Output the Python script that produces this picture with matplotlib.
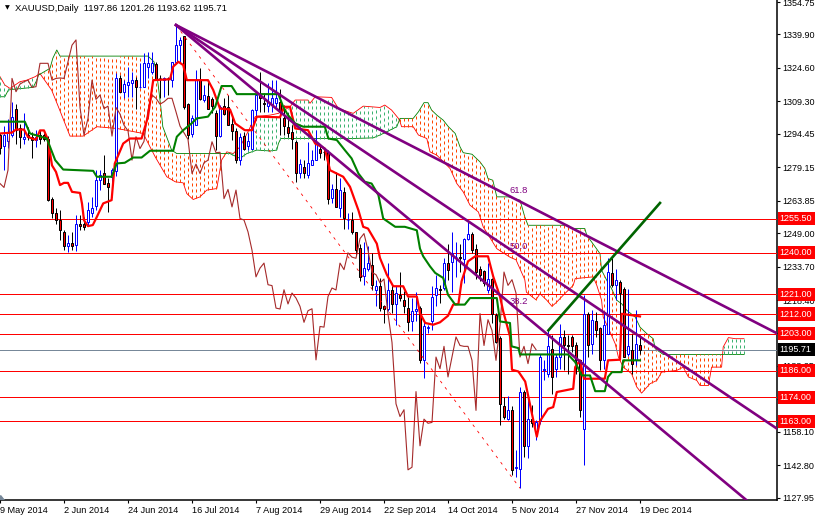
import numpy as np
import matplotlib
matplotlib.use("Agg")
import matplotlib.pyplot as plt
from matplotlib.patches import Rectangle

plt.rcParams["font.family"] = ["Liberation Sans", "DejaVu Sans"]
plt.rcParams["lines.scale_dashes"] = False

# daily candles, one per bar
opens = [1294,1289,1291,1294,1306,1297,1292,1294,1293,1291.6,
         1294,1294,1292.3,1264.4,1258,1254.9,1249.3,1243,1244.7,1243.5,
         1253.4,1253,1254.2,1258,1261.3,1273.2,1276.6,1272,1274.8,1277.5,
         1319.8,1313.7,1316.6,1317.8,1319,1316,1316,1325,1322.9,1326.4,
         1320,1319,1320,1319,1327.4,1335,1339.2,1307.9,1294.3,1298.4,
         1319,1309.9,1311.7,1310.6,1303.8,1293.4,1307.1,1306.5,1298.9,1295.7,
         1282.4,1293.4,1289,1287.7,1305.3,1312,1308.4,1307.1,1307.6,1308.4,
         1309.1,1301.5,1297.7,1295.4,1290.8,1276.6,1279.4,1275.5,1280.1,1282.4,
         1287.7,1286.2,1286.2,1265.3,1269,1260.7,1267.6,1255,1254.9,1249.3,
         1242,1229.2,1232.6,1234.6,1223.1,1225,1215.8,1214.3,1223.1,1216.7,
         1220.8,1218.5,1214.7,1209,1213.5,1214.7,1191,1205.5,1209,1220.8,
         1223.3,1223.9,1235.3,1236,1238,1238,1237.3,1246.5,1248.8,1241.9,
         1232.6,1231.5,1223.1,1228,1211.7,1201,1169.7,1164,1168.2,1141.4,
         1141.1,1176.5,1151.7,1163.9,1158.2,1163,1186.2,1184.7,1196.1,1187,
         1192.3,1201.5,1198,1201.5,1197.6,1190.8,1159.6,1212.2,1198.4,1208.6,
         1205.7,1190.8,1203,1230.8,1225.4,1226.7,1223.6,1193.5,1195.4,1190.8,
         1197.86]
highs = [1295,1298,1301,1309,1308,1299,1304,1297.7,1295.4,1296.1,
         1296,1295,1293.4,1265.6,1260.3,1259.8,1250.3,1248,1249.6,1257.2,
         1257.2,1256.4,1263.3,1265.6,1277.8,1277.8,1284.7,1274,1278.6,1322.1,
         1321.3,1319,1325.2,1322.9,1320.6,1326.7,1331.3,1332,1332,1327.4,
         1321.3,1320.6,1320.6,1327.4,1344.2,1338.9,1339.2,1308.4,1303,1323.6,
         1324.4,1316.8,1318.3,1311.4,1305.3,1307.6,1310.7,1312.2,1303,1296.9,
         1294.6,1295.4,1295,1306,1312.9,1322.9,1312.9,1317.5,1319,1319,
         1314.8,1307.6,1303.8,1298.4,1291.6,1282.7,1282.4,1290.8,1287,1296.1,
         1290,1287.7,1287,1271.7,1277,1274,1270,1258,1258.7,1249.6,
         1244,1245,1243,1240,1227.7,1228.5,1216.3,1235.3,1225.4,1224.7,
         1231,1222.4,1220,1219.3,1221.9,1215.5,1208.6,1207,1224.7,1230,
         1225.4,1237.6,1244,1249.6,1245,1244,1247,1254.1,1249.6,1244.2,
         1233.8,1232,1235.3,1228.5,1212.4,1201.8,1174,1174.6,1169.7,1149.8,
         1178.8,1177.3,1174.3,1170.4,1163.6,1193.8,1190.8,1204.5,1202.2,1193.8,
         1207.6,1204.5,1202.2,1202.2,1199.2,1190.8,1220.6,1212.9,1213.7,1212.9,
         1206,1212.9,1237.4,1237.4,1232.8,1227.4,1224.4,1223.6,1203,1213.7,
         1201.26]
lows = [1285,1278,1288,1293,1290,1288,1290,1291.6,1283.2,1288.5,
        1290,1291,1263.6,1255.7,1253.4,1245.7,1241.5,1240.4,1241.2,1240.9,
        1250.3,1250.3,1252.2,1256.4,1259.5,1268.7,1271.7,1258.7,1265.6,1275,
        1313.7,1310.7,1311.4,1311.4,1306,1315.2,1315.7,1319.8,1322,1319,
        1310.7,1311.4,1312.2,1316,1327.4,1327.4,1306,1292.3,1293,1298.4,
        1309.9,1309,1306,1303.8,1287,1293,1303,1298.4,1291.6,1280.9,
        1280.1,1287,1287,1287.7,1300.7,1304.5,1304.5,1304.5,1304.5,1306.8,
        1293.9,1293.9,1293.1,1287.7,1272.5,1274,1274,1274,1280,1282.4,
        1283.2,1282.4,1262.2,1262.6,1261,1256.4,1251,1251,1248.8,1239,
        1227,1225.4,1231.5,1223.1,1215.5,1213.2,1207.9,1213.2,1212.4,1207,
        1217.8,1212.4,1204,1204,1208.6,1189.5,1182.7,1203.3,1204.8,1215.5,
        1217,1223.1,1227.7,1222,1229,1231,1226,1246,1240,1228,
        1227,1224.7,1221.6,1207.9,1198.7,1161.3,1163.9,1163.6,1138.4,1137.6,
        1132.3,1146.8,1146.3,1160.5,1154.4,1161.8,1181.6,1183.2,1175.5,1183.2,
        1187,1186.2,1184.7,1194.6,1184.7,1165.1,1143,1192.3,1193.8,1201.5,
        1186.2,1187,1203,1224.4,1218.3,1206,1192.3,1193,1184.7,1188.5,
        1193.62]
closes = [1288,1294,1295,1302,1296,1293,1293,1293,1291.6,1293,
          1292,1292,1264.1,1258,1254.9,1250.3,1243.2,1244.5,1243.2,1253.4,
          1252.2,1252,1259.5,1260.7,1273.2,1275.5,1271.7,1269.9,1277.8,1319.8,
          1313.7,1317.2,1318.3,1319,1315.7,1316,1326.7,1326.7,1326.7,1319,
          1319.8,1320,1319.8,1327.4,1335,1337.4,1306.5,1293.9,1301.5,1319,
          1310.2,1312.2,1306,1307.1,1293.4,1306.5,1303.5,1298.4,1295.8,1282.4,
          1293.1,1287.7,1291,1305.3,1312.2,1310.7,1308,1309.1,1310.7,1310.7,
          1304.5,1298,1294.9,1291.9,1276.3,1280.6,1276.3,1281.2,1282.4,1290.8,
          1285.8,1286,1264.8,1269,1261,1268.7,1255.7,1255,1249.6,1241.2,
          1229,1233,1235.3,1225.4,1225,1214.7,1214.3,1223.1,1216.6,1221.6,
          1219.3,1215.5,1208.2,1213.5,1214.4,1191,1206.3,1206,1220,1223.9,
          1223,1235.3,1232.3,1240,1238,1237.5,1246.5,1248.8,1241.2,1231,
          1230,1226.2,1228,1212.1,1199,1170.9,1165.1,1168.2,1140.7,1141.9,
          1176.5,1151.7,1163.9,1162,1162.4,1192.3,1187,1197.2,1183.2,1192.3,
          1201.5,1197.6,1197.2,1197.2,1190.8,1167.9,1212.2,1197.6,1209.4,1204.5,
          1190.8,1206.8,1231.2,1225.1,1227.7,1221.6,1192.3,1197.2,1189.3,1198.4,
          1195.71]

# ichimoku lines, read as (bar, price) breakpoints
tenkan_x = [0,3,4,6,7,9,10,11,12,13,14,15,16,17,18,20,20.5,21,22,23.2,24.2,25.8,27.9,28.7,30.8,32.5,35.4,37,38.3,42.5,43.3,44.6,45.8,46.7,52,53.3,55,57.5,58.8,61.2,63,64.2,70,71,72.5,73.8,77,78.8,81.2,82.1,82.5,85.8,87.5,89.6,90.8,92,94.2,95,96.7,98.3,100.8,102,104.2,105,106.3,108.3,110,112,113.3,114.6,115.4,117,118.8,122,123.3,125,125.8,127.5,128,129.6,131.3,133.3,134.2,135,137,138.3,139.2,143.3,143.8,145,146,151.2,152,155,155.4,160]
tenkan_y = [1294.6,1295,1296.4,1296.4,1293,1291.7,1296,1296,1291.7,1280,1277,1271,1272,1272,1267.9,1267.4,1262.5,1254.9,1252.2,1252.7,1256.4,1262.6,1264.1,1280.9,1290,1292.3,1292.3,1302.3,1319,1319.4,1325.2,1327.4,1325.9,1319,1319,1314.5,1306,1305.6,1299.2,1296.1,1296.1,1302.3,1302,1306.8,1306.8,1296.9,1296.1,1290,1287.7,1280.9,1277.8,1274.8,1270.2,1259.5,1251.9,1251.1,1244.2,1237.6,1230,1224.7,1224.7,1220,1220,1212.4,1207.9,1207.1,1208.2,1211.2,1216.3,1216.6,1227,1236.1,1238.4,1238.4,1229.2,1220,1213.2,1201.8,1186.5,1185.7,1181.1,1163.6,1155.9,1163,1168.6,1169.4,1176.3,1177.8,1187.7,1190.8,1182.4,1182.4,1190.8,1191.1,1212.1,1210.9]
kijun_x = [0,6.2,7.5,11.7,13.8,15.8,23.3,24.2,27.9,29.2,31.2,33.3,35.4,37.5,43.3,44.2,45.8,47.9,49.2,52,53.8,55.4,57.9,59.2,69.6,70.8,72,73.8,75.8,81.2,82.1,84.2,86.2,87.9,89.6,91.2,92.9,94.6,95.8,98.8,101.2,104.2,105,105.8,107.5,108.8,110.8,112,113.8,116.2,117.5,124.2,125,127.5,127.9,129.6,130,142,143.8,145.4,147.5,148.8,151.2,152,153,155.4,155.8,160]
kijun_y = [1300,1300,1294.6,1292.3,1282.4,1278.1,1277.5,1274.8,1274.8,1280.9,1281.2,1283.6,1283.6,1286.7,1286.7,1293.1,1296.1,1299.2,1301.5,1302.3,1306.8,1316.3,1316.3,1312.6,1312.6,1306.8,1303,1299.2,1297.7,1297.7,1292.3,1291.6,1287,1283.2,1276.3,1272.5,1271.7,1266.4,1255.7,1251.9,1251.9,1250.3,1241.9,1238.4,1233.8,1230.8,1228.5,1220.8,1216.3,1216.3,1219.3,1219.3,1208.6,1207.9,1197.2,1196.4,1193.5,1193.5,1190,1183.9,1183.9,1176.7,1176.7,1183.2,1185.4,1185.4,1190.8,1190.8]
span_a_x = [0,1.2,2.5,5,6.7,8.8,10,12.9,14.6,17.5,20.8,24.2,29.2,35.8,37.5,38.8,41.7,43.8,45.8,46.7,48.3,50,51.7,54.2,55.4,56.7,58.3,60,62,63.8,67.5,69.6,72.5,73.8,77,77.5,78.8,82.9,84.6,88.3,90.8,95,96.2,97.9,99.6,100,100.4,103.3,104.6,106.7,107.5,109.2,112.5,114.2,115.8,117.5,119.6,120.8,124.2,127.5,129,131.2,131.6,134,135,136.7,138,139.2,140.8,143.3,143.8,148.3,149.2,150.4,150.8,152.5,153.8,154.6,155.8,157.9,159.2,160.4,162.5,164.2,165.4,169.2,170.8,172.1,174.2,175,177.1,177.9,180.4,180.8,182.1,183.8,186]
span_a_y = [1320.6,1316.8,1315.2,1318.3,1319,1320.6,1322,1314.5,1306.8,1293.4,1293.4,1297.7,1296.9,1294.6,1288.5,1283.9,1274.8,1272.5,1272,1267.1,1264.4,1265.6,1268.7,1269.4,1282.4,1286.2,1285.4,1288.5,1295.4,1302.3,1303,1303.8,1306.8,1309.9,1309.9,1308.4,1311.4,1311.1,1306,1303.8,1307.1,1306.5,1307.6,1305.3,1301.5,1300,1297.7,1297.7,1293.9,1292.3,1286.2,1284.7,1278.6,1271.7,1267.9,1261.8,1258.7,1251.9,1241.9,1238,1236.8,1227.7,1222,1218.5,1221.3,1218.3,1215.5,1217.5,1220.6,1225.1,1228.2,1229,1225.1,1218.3,1210.6,1203.8,1198.4,1192.3,1187.7,1184.7,1178.6,1175.8,1180.1,1181.6,1185.4,1186.2,1187.7,1183.2,1181.6,1179.3,1179.3,1187.7,1187.7,1196.9,1201.2,1200.7,1200.7]
span_b_x = [0,1.2,2.1,3.3,8.3,9.2,9.6,12.5,13.2,14.2,15,37,38.5,39.2,40.2,40.7,42.9,44.2,57.5,60,61.7,64.2,67.5,69.2,69.6,70.2,88.3,93.3,95,96.7,99.2,100,103.3,104.6,106,107,107.9,109.2,110.8,112.1,113.8,115,115.8,118,120,121.2,122,123.2,124.2,127,130,131.2,132,135,142,143,146.2,146.7,148.8,150,150.4,151.7,152.9,154.2,155.4,156.7,158.8,160,161.7,163.3,163.8,165.8,186]
span_b_y = [1311.4,1311.4,1314.5,1314.8,1315.7,1319,1321.3,1324.4,1329,1332.8,1330,1330,1327.4,1322,1306.8,1297.7,1287,1285.4,1285.4,1283.2,1285.4,1287,1286.6,1287,1290,1292.3,1292.3,1292.6,1293.9,1295.4,1297.7,1301.5,1301.5,1304.5,1308.7,1308.7,1305.3,1303,1300.7,1297.7,1294.6,1288.5,1285.8,1285.1,1281.6,1278.6,1274,1273.2,1265.6,1265.6,1264.1,1256.4,1252.6,1252.6,1252.6,1251.1,1251.1,1248,1242.7,1239.6,1232,1227.4,1223.6,1218.3,1216.7,1213.7,1210.6,1206,1203,1200.7,1196.1,1193.5,1193.5]

levels = [1255.50, 1240.00, 1221.00, 1212.00, 1203.00, 1186.00, 1174.00, 1163.00]
last_price = 1195.71
price_ticks = [1354.75, 1339.90, 1324.60, 1309.30, 1294.45, 1279.15, 1263.85, 1249.00,
               1233.70, 1218.40, 1203.10, 1188.25, 1172.95, 1158.10, 1142.80, 1127.95]
date_ticks = [0, 16, 32, 48, 64, 80, 96, 112, 128, 144, 160]
date_labels = ["9 May 2014", "2 Jun 2014", "24 Jun 2014", "16 Jul 2014", "7 Aug 2014", "29 Aug 2014",
               "22 Sep 2014", "14 Oct 2014", "5 Nov 2014", "27 Nov 2014", "19 Dec 2014"]

# fibonacci fan, trend line and swing line: (bar, price) ends
fan_start = (44, 1344.2)
fan_ends = [(194.2, 1203.2), (194.2, 1159.6), (186.7, 1126.7)]
fan_labels = ["61.8", "50.0", "38.2"]
fan_label_pos = [(127.5, 1268.3), (127.5, 1243), (127.5, 1217.8)]
swing_end = (130, 1132.3)
trend_x = [137.1, 165]
trend_y = [1204.5, 1262.8]

PX = 0.72  # one screen pixel, in points
fig = plt.figure(figsize=(8.15, 5.16), dpi=100, facecolor="white")
ax = fig.add_axes([0, 16 / 516, 776.7 / 815, 500 / 516])
ax.set_xlim(0, 776.7 / 4)
ax.set_ylim(1126.9, 1355.67)
for side in ["top", "left"]:
    ax.spines[side].set_visible(False)
ax.spines["right"].set_linewidth(1.1)
ax.spines["bottom"].set_linewidth(1.1)

# cloud: dashed columns between the two spans
bars = np.arange(0, 187)
a = np.interp(bars, span_a_x, span_a_y)
b = np.interp(bars, span_b_x, span_b_y)
bear = a < b
ax.plot(span_a_x, span_a_y, color="red", lw=0.6, zorder=1)
ax.plot(span_b_x, span_b_y, color="green", lw=0.6, zorder=1)
dash = (0, (2.16, 2.16))
ax.vlines(bars[bear], a[bear], b[bear], color="#ff4500", lw=PX, linestyles=[dash], zorder=2, snap=True)
ax.vlines(bars[~bear], b[~bear], a[~bear], color="#3cb371", lw=PX, linestyles=[dash], zorder=2, snap=True)

# levels
for lv in levels:
    ax.axhline(lv, color="red", lw=PX, zorder=3)
ax.axhline(last_price, color="#778899", lw=PX, zorder=3)

# candles
idx = np.arange(len(closes))
o = np.array(opens)
c = np.array(closes)
up = c >= o
ax.vlines(idx[up], np.array(lows)[up], np.array(highs)[up], color="blue", lw=PX, zorder=4, snap=True)
ax.vlines(idx[~up], np.array(lows)[~up], np.array(highs)[~up], color="black", lw=PX, zorder=4, snap=True)
ax.bar(idx[up], (c - o)[up], bottom=o[up], width=0.5, facecolor="white", edgecolor="blue", lw=PX, zorder=5)
ax.bar(idx[~up], (o - c)[~up], bottom=c[~up], width=0.5, facecolor="red", edgecolor="black", lw=PX, zorder=5)

# chikou is the close shifted back 26 bars
ax.plot(idx[:-26], closes[26:], color="brown", lw=0.8, zorder=6)
ax.plot(tenkan_x, tenkan_y, color="red", lw=1.6, zorder=7)
ax.plot(kijun_x, kijun_y, color="green", lw=1.5, zorder=7)

# drawn objects
ax.plot([fan_start[0], swing_end[0]], [fan_start[1], swing_end[1]], color="red", lw=0.6,
        linestyle=(0, (2.0, 3.6)), zorder=8)
for end in fan_ends:
    ax.plot([fan_start[0], end[0]], [fan_start[1], end[1]], color="purple", lw=1.9, zorder=9)
for lab, pos in zip(fan_labels, fan_label_pos):
    ax.text(pos[0], pos[1], lab, color="purple", fontsize=6.8, ha="left", va="center", zorder=10)
ax.plot(trend_x, trend_y, color="#006400", lw=1.9, zorder=9)

# axes
ax.yaxis.tick_right()
ax.set_yticks(price_ticks)
ax.set_yticklabels([f"{p:.2f}" for p in price_ticks], fontsize=6.5)
ax.tick_params(axis="y", length=2.5, width=0.8, pad=1.5)
ax.set_xticks(date_ticks)
ax.set_xticklabels(date_labels, fontsize=6.6, ha="left")
ax.tick_params(axis="x", length=2.5, width=0.8, pad=1.5)

# price tags over the axis
trans = ax.get_yaxis_transform()
for lv in levels:
    ax.add_patch(Rectangle((1.0015, lv - 3.0), 0.05, 6.0, transform=trans, facecolor="red", edgecolor="none",
                           clip_on=False, zorder=20))
    ax.text(1.004, lv, f"{lv:.2f}", transform=trans, color="white", fontsize=6.5, va="center", clip_on=False, zorder=21)
ax.add_patch(Rectangle((1.0015, last_price - 3.0), 0.05, 6.0, transform=trans, facecolor="black", edgecolor="none",
                       clip_on=False, zorder=20))
ax.text(1.004, last_price, f"{last_price:.2f}", transform=trans, color="white", fontsize=6.5, va="center",
        clip_on=False, zorder=21)

# header and small markers
ax.text(1.3, 1352, "▼", fontsize=4.5, family="DejaVu Sans", va="center", ha="left", zorder=21)
ax.text(3.7, 1352, "XAUUSD,Daily  1197.86 1201.26 1193.62 1195.71", fontsize=6.8, va="center", ha="left", zorder=21)
ax.fill([0, 0, 1.1], [1129.4, 1126.9, 1126.9], color="#778899", zorder=21)

fig.savefig("out.png", dpi=100, facecolor="white")
